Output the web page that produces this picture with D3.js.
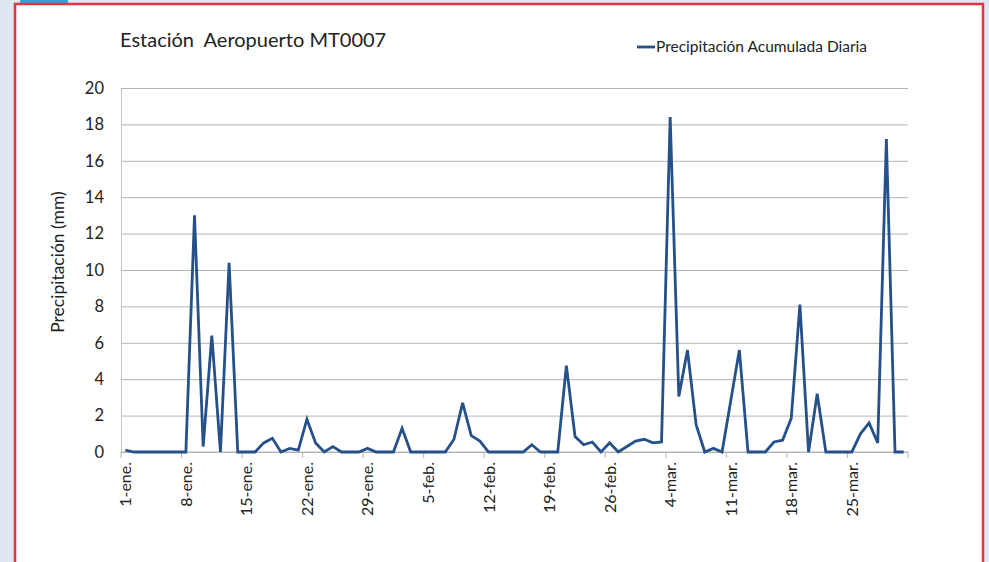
<!DOCTYPE html>
<html>
<head>
<meta charset="utf-8">
<script src="https://cdn.jsdelivr.net/npm/d3@7"></script>
<style>
  body { margin: 0; background: #dfe7f2; }
  svg { display: block; }
  .grid line { stroke: #b4b4b4; stroke-width: 1; }
  .grid path { display: none; }
  text { font-family: Lato, "Open Sans", sans-serif; fill: #222; white-space: pre; }
</style>
</head>
<body>
<script>
// Daily values, 1-ene to 31-mar (leap year, 91 days)
const startDate = new Date(2012, 0, 1);
const rain = [
  0.1, 0, 0, 0, 0, 0, 0, 0, 13.0, 0.3,
  6.4, 0, 10.4, 0, 0, 0, 0.5, 0.75, 0, 0.2,
  0.1, 1.8, 0.5, 0, 0.3, 0, 0, 0, 0.2, 0,
  0, 0, 1.3, 0, 0, 0, 0, 0, 0.7, 2.7,
  0.9, 0.6, 0, 0, 0, 0, 0, 0.4, 0, 0,
  0, 4.75, 0.85, 0.4, 0.55, 0, 0.5, 0, 0.3, 0.6,
  0.7, 0.5, 0.55, 18.4, 3.05, 5.6, 1.5, 0, 0.2, 0,
  2.8, 5.6, 0, 0, 0, 0.55, 0.65, 1.85, 8.1, 0,
  3.2, 0, 0, 0, 0, 1.0, 1.6, 0.5, 17.2, 0,
  0
];
const monthNames = ["ene.", "feb.", "mar."];
const yTicks = [0, 2, 4, 6, 8, 10, 12, 14, 16, 18, 20];
const titleText = "Estación  Aeropuerto MT0007";
const legendText = "Precipitación Acumulada Diaria";
const yLabel = "Precipitación (mm)";

const days = rain.map((v, i) => {
  const d = new Date(startDate);
  d.setDate(d.getDate() + i);
  return d;
});
const dayLabel = d => `${d.getDate()}-${monthNames[d.getMonth()]}`;

const W = 989, H = 562;
const margin = {top: 88, right: 81, bottom: 110, left: 121};
const width = W - margin.left - margin.right;
const height = H - margin.top - margin.bottom;

const svg = d3.select("body").append("svg")
    .attr("width", W)
    .attr("height", H);

// page frame
svg.append("rect").attr("x", 0).attr("y", 0).attr("width", W).attr("height", H).attr("fill", "#dfe7f2");
svg.append("rect").attr("x", 20).attr("y", 0).attr("width", 48).attr("height", 3).attr("fill", "#2ba3df");
svg.append("rect").attr("x", 15).attr("y", 4).attr("width", 968).attr("height", H)
    .attr("fill", "#fff").attr("stroke", "#e8323c").attr("stroke-width", 2.5);

const chart = svg.append("g")
    .attr("transform", `translate(${margin.left},${margin.top})`);

// Scales
const x = d3.scaleBand().domain(d3.range(rain.length)).range([0, width]).padding(0);
const y = d3.scaleLinear().domain([0, 20]).range([height, 0]);

// Gridlines
chart.append("g")
    .attr("class", "grid")
    .call(d3.axisLeft(y).tickValues(yTicks).tickSize(-width).tickFormat(""));

// Y axis
const yAxis = chart.append("g")
    .call(d3.axisLeft(y).tickValues(yTicks).tickSize(0).tickPadding(17));
yAxis.select(".domain").attr("stroke", "#c8c8c8");
yAxis.selectAll("text")
    .style("font-family", "Lato, 'Open Sans', sans-serif")
    .style("font-size", "16.5px")
    .attr("fill", "#222");

// X axis: tick marks every 7 days at category edges
const weekIdx = d3.range(0, rain.length, 7);
const xAxisG = chart.append("g").attr("transform", `translate(0,${height})`);
xAxisG.append("line").attr("x1", 0).attr("x2", width).attr("stroke", "#b4b4b4");
xAxisG.selectAll(".tk").data(weekIdx.concat([rain.length]))
  .enter().append("line")
    .attr("x1", i => i < rain.length ? x(i) : width)
    .attr("x2", i => i < rain.length ? x(i) : width)
    .attr("y1", 0).attr("y2", 6)
    .attr("stroke", "#b4b4b4");
xAxisG.selectAll(".lbl").data(weekIdx)
  .enter().append("text")
    .attr("transform", i => `translate(${x(i) + x.bandwidth() / 2 + 6},10) rotate(-90)`)
    .attr("text-anchor", "end")
    .style("font-size", "16px")
    .text(i => dayLabel(days[i]));

// Line
chart.append("path")
    .datum(rain)
    .attr("fill", "none")
    .attr("stroke", "#25508a")
    .attr("stroke-width", 2.8)
    .attr("stroke-linejoin", "miter")
    .attr("d", d3.line()
        .x((d, i) => x(i) + x.bandwidth() / 2)
        .y(d => y(d)));

// Y label
svg.append("text")
    .attr("transform", `translate(64,${margin.top + height / 2 - 8}) rotate(-90)`)
    .attr("text-anchor", "middle")
    .style("font-size", "17.5px")
    .text(yLabel);

// Title
svg.append("text")
    .attr("x", 120).attr("y", 47)
    .style("font-size", "20px")
    .text(titleText);

// Legend
svg.append("line")
    .attr("x1", 637).attr("x2", 655).attr("y1", 47).attr("y2", 47)
    .attr("stroke", "#25508a").attr("stroke-width", 2.8);
svg.append("text")
    .attr("x", 656).attr("y", 52)
    .style("font-size", "15.5px")
    .text(legendText);
</script>
</body>
</html>
